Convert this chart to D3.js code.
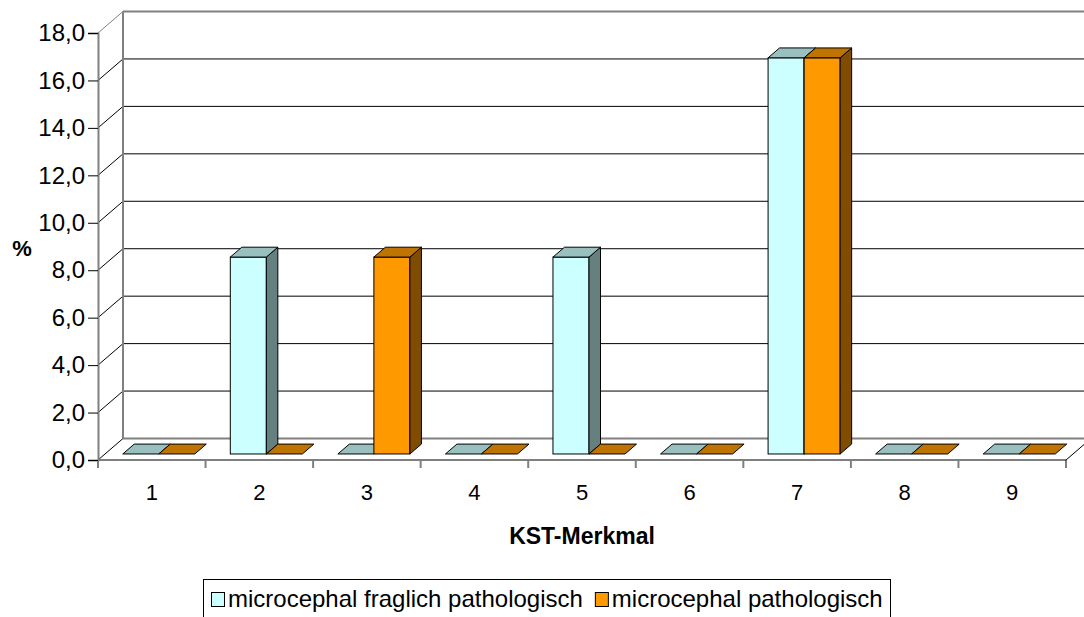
<!DOCTYPE html>
<html>
<head>
<meta charset="utf-8">
<script src="https://cdn.jsdelivr.net/npm/d3@7"></script>
<style>
  body { margin: 0; background: #fff; }
  svg { display: block; font-family: "Liberation Sans", Arial, sans-serif; }
</style>
</head>
<body>
<svg id="chart" width="1084" height="617"></svg>
<script>
// data
const categories = ["1", "2", "3", "4", "5", "6", "7", "8", "9"];
const seriesNames = ["microcephal fraglich pathologisch", "microcephal pathologisch"];
const fraglich = [0, 8.3, 0, 0, 8.3, 0, 16.7, 0, 0];
const pathologisch = [0, 0, 8.3, 0, 0, 0, 16.7, 0, 0];
const yTicks = [0, 2, 4, 6, 8, 10, 12, 14, 16, 18];

const colors = [
  {front: "#CCFFFF", top: "#99BFBF", side: "#668080"},
  {front: "#FF9900", top: "#BF7300", side: "#804D00"}
];

const svg = d3.select("#chart");

// front plane of the plot
const x = d3.scaleBand().domain(categories).range([98, 1066]);
const y = d3.scaleLinear().domain([0, 18]).range([460, 33]);

// depth offset of the 3d box
const DX = 25, DY = 21.5;
function proj(px, py, z) { return [px + DX * z, py - DY * z]; }

const x0 = x.range()[0], x1 = x.range()[1];
const g = svg.append("g");

// walls and floor
g.append("polygon")
  .attr("points", [proj(x0, y(0), 0), proj(x0, y(18), 0), proj(x0, y(18), 1), proj(x0, y(0), 1)].join(" "))
  .attr("fill", "#fff");
g.append("polygon")
  .attr("points", [proj(x0, y(0), 0), proj(x1, y(0), 0), proj(x1, y(0), 1), proj(x0, y(0), 1)].join(" "))
  .attr("fill", "#fff");

// gridlines on back wall + left wall
yTicks.forEach(function(v) {
  let b1 = proj(x0, y(v), 1), b2 = proj(x1, y(v), 1), f = proj(x0, y(v), 0);
  let edge = (v === 0 || v === 18);
  g.append("line")
    .attr("x1", b1[0]).attr("y1", b1[1]).attr("x2", b2[0]).attr("y2", b2[1])
    .attr("stroke", edge ? "#808080" : "#000")
    .attr("stroke-width", edge ? 2 : 1);
  g.append("line")
    .attr("x1", f[0]).attr("y1", f[1]).attr("x2", b1[0]).attr("y2", b1[1])
    .attr("stroke", v === 18 ? "#808080" : "#000")
    .attr("stroke-width", 1);
});

// back-left vertical edge
let bl0 = proj(x0, y(0), 1), bl1 = proj(x0, y(18), 1);
g.append("line")
  .attr("x1", bl0[0]).attr("y1", bl0[1]).attr("x2", bl1[0]).attr("y2", bl1[1])
  .attr("stroke", "#808080").attr("stroke-width", 2);

// floor front edge + right edge
let fr = proj(x1, y(0), 1);
g.append("line")
  .attr("x1", x0).attr("y1", y(0)).attr("x2", x1).attr("y2", y(0))
  .attr("stroke", "#000").attr("stroke-width", 1);
g.append("line")
  .attr("x1", x1).attr("y1", y(0)).attr("x2", fr[0]).attr("y2", fr[1])
  .attr("stroke", "#000").attr("stroke-width", 1);

// category boundary ticks
d3.range(categories.length + 1).forEach(function(i) {
  let tx = x0 + i * x.step();
  g.append("line")
    .attr("x1", tx).attr("y1", y(0)).attr("x2", tx).attr("y2", y(0) + 8)
    .attr("stroke", i === categories.length ? "#000" : "#808080")
    .attr("stroke-width", i === categories.length ? 1 : 2);
});

// y axis
const fmt = d3.formatLocale({decimal: ",", thousands: ".", grouping: [3], currency: ["", "€"]}).format(".1f");
const yAxis = g.append("g")
  .attr("transform", "translate(" + x0 + ",0)")
  .call(d3.axisLeft(y).tickValues(yTicks).tickFormat(fmt).tickSize(10).tickPadding(3));
yAxis.select(".domain").attr("stroke", "#808080").attr("stroke-width", 2);
yAxis.selectAll(".tick line").attr("stroke", "#000");
yAxis.selectAll(".tick text")
  .attr("fill", "#000")
  .style("font-size", "24px")
  .style("font-family", "Liberation Sans, Arial, sans-serif");

// bars
const series = [fraglich, pathologisch];
const bw = x.bandwidth();
const barW = bw * 0.335;
const zF = 0.28, zB = 0.74;

categories.forEach(function(c, i) {
  series.forEach(function(vals, s) {
    let v = vals[i];
    let bx = x(c) + (bw - 2 * barW) / 2 + s * barW;
    let col = colors[s];
    let top = [proj(bx, y(v), zF), proj(bx + barW, y(v), zF), proj(bx + barW, y(v), zB), proj(bx, y(v), zB)];
    if (v > 0) {
      let fTL = proj(bx, y(v), zF), fBR = proj(bx + barW, y(0), zF);
      g.append("rect")
        .attr("x", fTL[0]).attr("y", fTL[1])
        .attr("width", fBR[0] - fTL[0]).attr("height", fBR[1] - fTL[1])
        .attr("fill", col.front).attr("stroke", "#000").attr("stroke-width", 1);
      let side = [proj(bx + barW, y(v), zF), proj(bx + barW, y(0), zF), proj(bx + barW, y(0), zB), proj(bx + barW, y(v), zB)];
      g.append("polygon")
        .attr("points", side.join(" "))
        .attr("fill", col.side).attr("stroke", "#000").attr("stroke-width", 1);
    }
    g.append("polygon")
      .attr("points", top.join(" "))
      .attr("fill", col.top).attr("stroke", "#000").attr("stroke-width", 1);
  });
});

// category labels
g.selectAll(".cat")
  .data(categories)
  .enter().append("text")
  .attr("x", function(d) { return x(d) + bw / 2; })
  .attr("y", 500)
  .attr("text-anchor", "middle")
  .style("font-size", "22px")
  .text(function(d) { return d; });

// axis titles
g.append("text")
  .attr("x", 582).attr("y", 544)
  .attr("text-anchor", "middle")
  .style("font-size", "23px").style("font-weight", "bold")
  .text("KST-Merkmal");
g.append("text")
  .attr("x", 22).attr("y", 256)
  .attr("text-anchor", "middle")
  .style("font-size", "22px").style("font-weight", "bold")
  .text("%");

// legend
const leg = svg.append("g");
leg.append("rect")
  .attr("x", 203.5).attr("y", 579.5).attr("width", 687).attr("height", 60)
  .attr("fill", "#fff").attr("stroke", "#000").attr("stroke-width", 1);
let lx = 211;
seriesNames.forEach(function(name, s) {
  leg.append("rect")
    .attr("x", lx + 0.5).attr("y", 592.5).attr("width", 13).attr("height", 14)
    .attr("fill", colors[s].front).attr("stroke", "#000").attr("stroke-width", 1);
  let t = leg.append("text")
    .attr("x", lx + 17).attr("y", 607)
    .style("font-size", "24px")
    .text(name);
  lx = lx + 17 + t.node().getComputedTextLength() + 12;
});
</script>
</body>
</html>
